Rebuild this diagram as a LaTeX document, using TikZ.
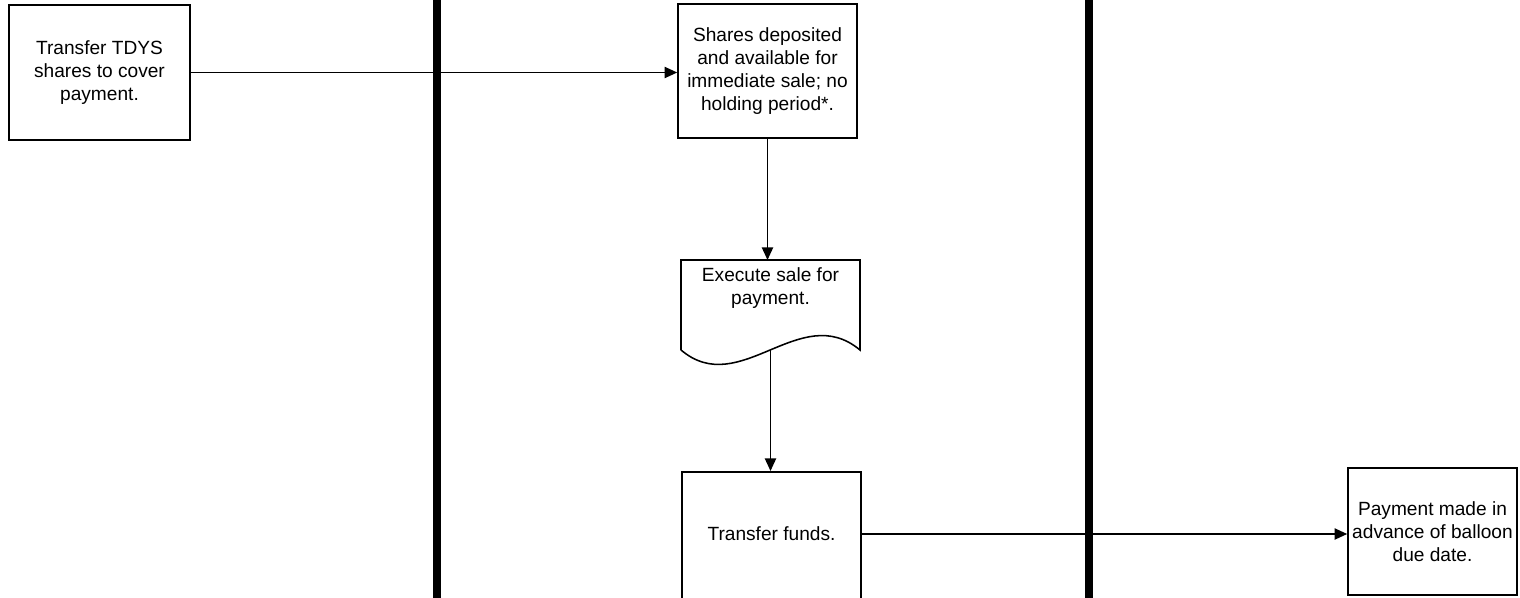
\documentclass[tikz,border=0pt]{standalone}
\usepackage{fontspec}
\setmainfont{Liberation Sans}
\usetikzlibrary{arrows.meta}

\begin{document}
\begin{tikzpicture}[
    x=0.025cm,
    y=-0.025cm,
    box/.style={
        rectangle,
        draw=black,
        line width=1.1pt,
        inner sep=0pt,
        align=center,
        font=\fontsize{13.6}{16.4}\selectfont
    },
    boxtext/.style={
        inner sep=0pt,
        align=center,
        font=\fontsize{13.6}{16.4}\selectfont
    },
    lane/.style={
        line width=5pt,
        black
    },
    flow/.style={
        -{Triangle[length=9pt,width=8pt]},
        line width=1.1pt
    }
]

% Rahmen
\useasboundingbox (0,0) rectangle (1520,598);
\clip (0,0) rectangle (1520,598);

% Bahnen
\draw[lane] (437,0) -- (437,598);
\draw[lane] (1089,0) -- (1089,598);

% Schritt 1
\node[box, minimum width=4.525cm, minimum height=3.375cm] (transfer) at (99.5,72.5) {
    Transfer TDYS\\shares to cover\\payment.
};

% Schritt 2
\node[box, minimum width=4.475cm, minimum height=3.35cm] (shares) at (767.5,71) {
    Shares deposited\\and available for\\immediate sale; no\\holding period*.
};

% Schritt 3 (Dokument)
\draw[line width=1.1pt] (681,350) -- (681,260) -- (860,260) -- (860,350)
    .. controls (800,300) and (740,400) .. (681,350);
\coordinate (saletop) at (770.5,260);
\coordinate (salebottom) at (770.5,350);
\node[boxtext] (sale) at (770.5,288) {
    Execute sale for\\payment.
};

% Schritt 4
\node[box, minimum width=4.475cm, minimum height=4.25cm, anchor=north] (funds) at (771.5,471) {};
\node[boxtext] (fundstext) at (771.5,534) {Transfer funds.};

% Schritt 5
\node[box, minimum width=4.225cm, minimum height=3.175cm] (payment) at (1432.5,531.5) {
    Payment made in\\advance of balloon\\due date.
};

% Verbindungen
\draw[flow] (transfer.east) -- (transfer.east -| shares.west);
\draw[flow] (shares.south) -- (shares.south |- saletop);
\draw[flow] (salebottom) -- (salebottom |- funds.north);
\draw[flow] (fundstext -| funds.east) -- (fundstext -| payment.west);

\end{tikzpicture}
\end{document}
